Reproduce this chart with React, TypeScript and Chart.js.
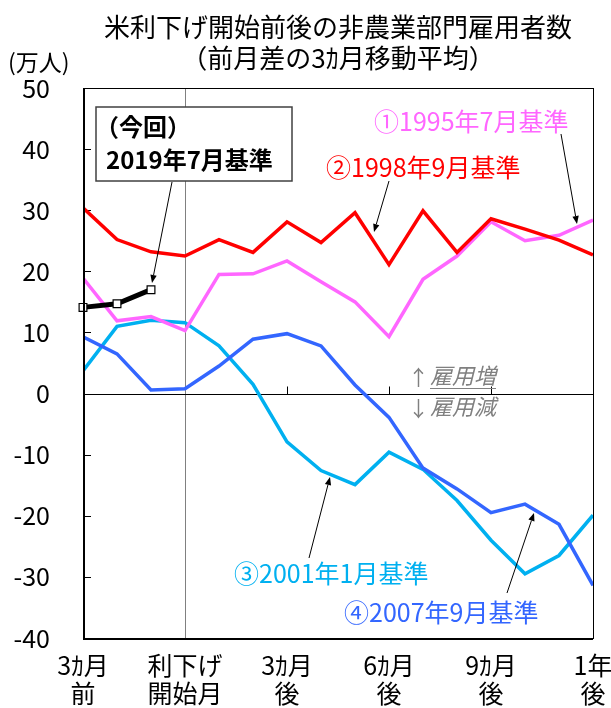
import { useEffect, useRef } from "react";
import { Chart, registerables } from "chart.js";

Chart.register(...registerables);

// ---- data ----
const months = [-3, -2, -1, 0, 1, 2, 3, 4, 5, 6, 7, 8, 9, 10, 11, 12];
const base1995 = [18.9, 11.9, 12.6, 10.3, 19.5, 19.6, 21.7, 18.3, 15.0, 9.3, 18.7, 22.5, 28.1, 25.0, 25.9, 28.4];
const base1998 = [30.4, 25.2, 23.2, 22.5, 25.2, 23.1, 28.1, 24.7, 29.6, 21.1, 29.9, 23.1, 28.6, 26.9, 25.1, 22.7];
const base2001 = [3.7, 11.0, 12.0, 11.6, 7.8, 1.5, -7.9, -12.6, -14.9, -9.6, -12.4, -17.5, -24.0, -29.5, -26.5, -19.9];
const base2007 = [9.3, 6.5, 0.6, 0.8, 4.5, 8.9, 9.8, 7.8, 1.4, -3.9, -12.2, -15.6, -19.5, -18.1, -21.4, -31.4];
const current2019 = [14.1, 14.7, 17.0];

const xTickValues = [-3, 0, 3, 6, 9, 12];
const xTickLabels = [
  ["3ｶ月", "前"],
  ["利下げ", "開始月"],
  ["3ｶ月", "後"],
  ["6ｶ月", "後"],
  ["9ｶ月", "後"],
  ["1年", "後"],
];
const yMin = -40;
const yMax = 50;
const yStep = 10;

const titleLines = ["米利下げ開始前後の非農業部門雇用者数", "（前月差の3ｶ月移動平均）"];
const unitLabel = "(万人)";
const label1995 = "①1995年7月基準";
const label1998 = "②1998年9月基準";
const label2001 = "③2001年1月基準";
const label2007 = "④2007年9月基準";
const labelNowLines = ["（今回）", "2019年7月基準"];
const upLabel = "雇用増";
const downLabel = "雇用減";

const FONT = '"Noto Sans CJK JP", "Noto Sans", sans-serif';

const toPts = (vals: number[]) => vals.map((v, i) => ({ x: months[i], y: v }));

function arrow(ctx: CanvasRenderingContext2D, x1: number, y1: number, x2: number, y2: number) {
  ctx.save();
  ctx.strokeStyle = "#000";
  ctx.fillStyle = "#000";
  ctx.lineWidth = 1;
  const ang = Math.atan2(y2 - y1, x2 - x1);
  const hl = 8;
  const hw = 3.2;
  const bx = x2 - hl * Math.cos(ang);
  const by = y2 - hl * Math.sin(ang);
  ctx.beginPath();
  ctx.moveTo(x1, y1);
  ctx.lineTo(bx, by);
  ctx.stroke();
  ctx.beginPath();
  ctx.moveTo(x2, y2);
  ctx.lineTo(bx + hw * Math.sin(ang), by - hw * Math.cos(ang));
  ctx.lineTo(bx - hw * Math.sin(ang), by + hw * Math.cos(ang));
  ctx.closePath();
  ctx.fill();
  ctx.restore();
}

const decorations = {
  id: "decorations",
  beforeDatasetsDraw(chart: any) {
    const { ctx, chartArea: a, scales } = chart;
    const xs = scales.x;
    const ys = scales.y;
    ctx.save();
    const x0 = Math.round(xs.getPixelForValue(0)) + 0.5;
    ctx.strokeStyle = "#808080";
    ctx.lineWidth = 1;
    ctx.beginPath();
    ctx.moveTo(x0, a.top);
    ctx.lineTo(x0, a.bottom);
    ctx.stroke();
    const y0 = Math.round(ys.getPixelForValue(0)) + 0.5;
    ctx.strokeStyle = "#000";
    ctx.beginPath();
    ctx.moveTo(a.left, y0);
    ctx.lineTo(a.right, y0);
    ctx.stroke();
    [3, 6, 9].forEach((m) => {
      const px = Math.round(xs.getPixelForValue(m)) + 0.5;
      ctx.beginPath();
      ctx.moveTo(px, y0);
      ctx.lineTo(px, y0 - 8);
      ctx.stroke();
    });
    for (let v = yMin + yStep; v < yMax; v += yStep) {
      const py = Math.round(ys.getPixelForValue(v)) + 0.5;
      ctx.beginPath();
      ctx.moveTo(a.left, py);
      ctx.lineTo(a.left + 8, py);
      ctx.stroke();
    }
    ctx.restore();
  },
  afterDatasetsDraw(chart: any) {
    const { ctx, chartArea: a } = chart;
    ctx.save();
    ctx.strokeStyle = "#000";
    ctx.lineWidth = 1;
    ctx.strokeRect(Math.round(a.left) + 0.5, Math.round(a.top) + 0.5, Math.round(a.right - a.left), Math.round(a.bottom - a.top));
    ctx.lineWidth = 2;
    ctx.beginPath();
    ctx.moveTo(a.left + 1, a.top);
    ctx.lineTo(a.left + 1, a.bottom + 1);
    ctx.lineTo(a.right, a.bottom + 1);
    ctx.stroke();

    ctx.textBaseline = "middle";
    ctx.fillStyle = "#000";
    ctx.textAlign = "center";
    ctx.font = `26px ${FONT}`;
    ctx.fillText(titleLines[0], 338, 27);
    ctx.fillText(titleLines[1], 338, 58);
    ctx.textAlign = "left";
    ctx.font = `23px ${FONT}`;
    ctx.fillText(unitLabel, 8, 62);

    ctx.font = `25px ${FONT}`;
    ctx.fillStyle = "#FF66FF";
    ctx.fillText(label1995, 374, 121);
    ctx.fillStyle = "#FF0000";
    ctx.fillText(label1998, 326, 167);
    ctx.fillStyle = "#00B0F0";
    ctx.fillText(label2001, 234, 573);
    ctx.fillStyle = "#3366FF";
    ctx.fillText(label2007, 344, 612);

    arrow(ctx, 561, 134, 577, 224);
    arrow(ctx, 389, 181, 374, 232);
    arrow(ctx, 309, 558, 330, 477);
    arrow(ctx, 507, 593, 534, 513);

    ctx.fillStyle = "#fff";
    ctx.fillRect(96, 107, 196, 74);
    ctx.strokeStyle = "#404040";
    ctx.lineWidth = 1.5;
    ctx.strokeRect(96, 107, 196, 74);
    ctx.fillStyle = "#000";
    ctx.font = `bold 24px ${FONT}`;
    ctx.fillText(labelNowLines[0], 95, 127);
    ctx.fillText(labelNowLines[1], 106, 160);
    arrow(ctx, 172, 182, 152, 283);

    ctx.fillStyle = "#808080";
    ctx.strokeStyle = "#808080";
    ctx.font = `21px ${FONT}`;
    ctx.fillText("↑", 408, 377);
    ctx.fillText("↓", 408, 408);
    ctx.font = `italic 22px ${FONT}`;
    ctx.fillText(upLabel, 430, 376);
    ctx.fillText(downLabel, 430, 407);
    const w = ctx.measureText(upLabel).width;
    ctx.lineWidth = 1;
    ctx.beginPath();
    ctx.moveTo(430, 388.5);
    ctx.lineTo(430 + w, 388.5);
    ctx.stroke();
    ctx.restore();
  },
};

export default function App() {
  const ref = useRef<HTMLCanvasElement | null>(null);
  useEffect(() => {
    document.body.style.margin = "0";
    if (!ref.current) return;
    const chart = new Chart(ref.current, {
      type: "line",
      data: {
        datasets: [
          {
            label: labelNowLines[1],
            data: toPts(current2019),
            borderColor: "#000",
            borderWidth: 5,
            pointStyle: "rect",
            pointRadius: 5.5,
            pointBackgroundColor: "#fff",
            pointBorderColor: "#000",
            pointBorderWidth: 1.2,
            clip: false,
          },
          { label: label1998, data: toPts(base1998), borderColor: "#FF0000", borderWidth: 3.5, pointRadius: 0 },
          { label: label1995, data: toPts(base1995), borderColor: "#FF66FF", borderWidth: 3.5, pointRadius: 0 },
          { label: label2007, data: toPts(base2007), borderColor: "#3366FF", borderWidth: 3.5, pointRadius: 0 },
          { label: label2001, data: toPts(base2001), borderColor: "#00B0F0", borderWidth: 3.5, pointRadius: 0 },
        ],
      },
      options: {
        responsive: false,
        animation: false,
        layout: { padding: { top: 88, right: 18, bottom: 0, left: 0 } },
        plugins: { legend: { display: false }, tooltip: { enabled: false }, title: { display: false } },
        elements: { line: { tension: 0 } },
        scales: {
          x: {
            type: "linear",
            min: months[0],
            max: months[months.length - 1],
            grid: { display: false, drawTicks: false },
            border: { display: false },
            afterBuildTicks: (s: any) => {
              s.ticks = xTickValues.map((v) => ({ value: v }));
            },
            afterFit: (s: any) => {
              s.height = 70;
              s.paddingLeft = 0;
              s.paddingRight = 0;
            },
            ticks: {
              autoSkip: false,
              maxRotation: 0,
              padding: 13,
              color: "#000",
              font: { family: FONT, size: 25, lineHeight: 1.12 },
              callback: (v: any) => {
                const i = xTickValues.indexOf(Number(v));
                return i >= 0 ? xTickLabels[i] : "";
              },
            },
          },
          y: {
            min: yMin,
            max: yMax,
            grid: { display: false, drawTicks: false },
            border: { display: false },
            afterFit: (s: any) => {
              s.width = 83;
            },
            ticks: {
              stepSize: yStep,
              padding: 33,
              color: "#000",
              font: { family: FONT, size: 25 },
            },
          },
        },
      },
      plugins: [decorations],
    } as any);
    return () => chart.destroy();
  }, []);
  return (
    <div style={{ width: 611, height: 708 }}>
      <canvas ref={ref} width={611} height={708} style={{ display: "block" }} />
    </div>
  );
}
